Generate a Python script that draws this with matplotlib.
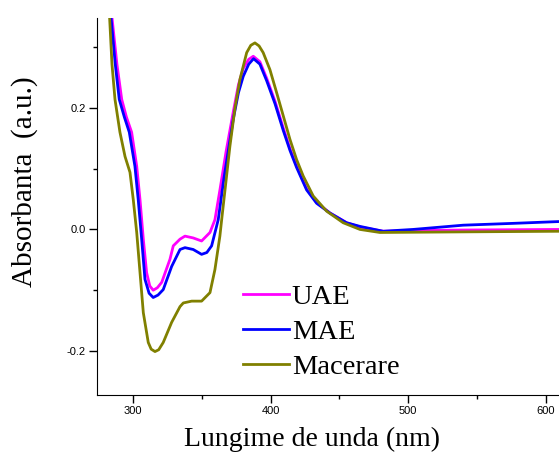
import matplotlib
matplotlib.use("Agg")
import matplotlib.pyplot as plt
from matplotlib.ticker import MultipleLocator

plt.rcParams['axes.unicode_minus'] = False

# UAE (magenta)
uae_x = [282.0, 284.5, 288.1, 291.6, 295.0, 298.8, 302.5, 304.9, 307.3, 309.7, 312.0,
         314.5, 317.5, 320.7, 326.7, 329.1, 334.0, 337.6, 343.6, 349.7, 355.8, 359.4,
         363.1, 367.5, 372.7, 376.5, 380.0, 384.0, 387.3, 392.1, 397.0, 403.1, 409.1,
         414.0, 418.8, 426.1, 433.4, 443.1, 455.2, 464.9, 481.8, 503.6, 540.0, 610.0]
uae_y = [0.48, 0.349, 0.272, 0.214, 0.185, 0.160, 0.104, 0.049, -0.016, -0.071, -0.093,
         -0.100, -0.096, -0.087, -0.049, -0.027, -0.016, -0.011, -0.014, -0.019, -0.005, 0.016,
         0.066, 0.128, 0.193, 0.238, 0.265, 0.280, 0.285, 0.276, 0.249, 0.211, 0.167,
         0.133, 0.105, 0.067, 0.044, 0.027, 0.011, 0.004, -0.003, -0.002, -0.001, 0.0]

# MAE (blue)
mae_x = [281.0, 283.8, 286.9, 289.8, 293.5, 297.1, 301.2, 303.6, 306.1, 308.5, 311.5,
         314.5, 318.0, 321.8, 327.9, 334.0, 337.6, 343.6, 349.7, 353.5, 357.0, 361.8,
         366.0, 372.7, 376.5, 380.0, 384.0, 387.5, 392.1, 397.0, 403.1, 409.1, 414.0,
         418.8, 426.1, 433.4, 443.1, 455.2, 464.9, 481.8, 503.6, 540.0, 576.4, 610.0]
mae_y = [0.48, 0.349, 0.272, 0.214, 0.185, 0.160, 0.104, 0.049, -0.016, -0.082, -0.105,
         -0.112, -0.108, -0.099, -0.061, -0.033, -0.030, -0.033, -0.041, -0.038, -0.027, 0.016,
         0.085, 0.181, 0.225, 0.252, 0.272, 0.281, 0.272, 0.245, 0.207, 0.163, 0.130,
         0.102, 0.065, 0.043, 0.027, 0.011, 0.005, -0.003, 0.0, 0.007, 0.010, 0.013]

# Macerare (olive)
mac_x = [280.0, 282.8, 284.5, 286.7, 290.3, 294.0, 297.6, 300.0, 302.5, 304.9, 307.3,
         310.9, 313.0, 315.8, 318.5, 321.8, 327.9, 334.0, 336.4, 342.5, 349.7, 355.8,
         359.4, 363.0, 364.3, 370.3, 374.0, 377.6, 382.5, 385.5, 388.5, 391.5, 394.5,
         399.4, 404.3, 409.1, 414.0, 418.8, 423.6, 430.9, 440.7, 452.7, 464.9, 479.4,
         540.0, 610.0]
mac_y = [0.48, 0.348, 0.272, 0.214, 0.160, 0.120, 0.094, 0.049, -0.005, -0.071, -0.137,
         -0.186, -0.197, -0.201, -0.198, -0.186, -0.153, -0.127, -0.121, -0.118, -0.118, -0.104,
         -0.066, -0.011, 0.016, 0.137, 0.200, 0.247, 0.291, 0.303, 0.307, 0.302, 0.291,
         0.263, 0.225, 0.187, 0.148, 0.115, 0.088, 0.055, 0.030, 0.011, 0.0, -0.005,
         -0.004, -0.003]

fig = plt.figure(figsize=(5.59, 4.61), dpi=100)
ax = fig.add_axes([0.1735, 0.1438, 1.0 - 0.1735, 0.961 - 0.1438])

ax.plot(uae_x, uae_y, color='#FF00FF', lw=2, label='UAE')
ax.plot(mae_x, mae_y, color='#0000FF', lw=2, label='MAE')
ax.plot(mac_x, mac_y, color='#808000', lw=2, label='Macerare')

ax.set_xlim(273.6, 609.7)
ax.set_ylim(-0.272, 0.348)

ax.spines['top'].set_visible(False)
ax.spines['right'].set_visible(False)

ax.xaxis.set_major_locator(MultipleLocator(100))
ax.xaxis.set_minor_locator(MultipleLocator(50))
ax.yaxis.set_major_locator(MultipleLocator(0.2))
ax.yaxis.set_minor_locator(MultipleLocator(0.1))
ax.yaxis.set_major_formatter(plt.FuncFormatter(lambda v, p: '%.1f' % v))
ax.tick_params(which='major', length=6, width=1, labelsize=8, pad=2)
ax.tick_params(which='minor', length=3, width=1)
for lab in ax.get_xticklabels() + ax.get_yticklabels():
    lab.set_family('Liberation Sans')

ax.set_xlabel('Lungime de unda (nm)', family='Liberation Serif', fontsize=20)
ax.set_ylabel('Absorbanta  (a.u.)', family='Liberation Serif', fontsize=21)
ax.xaxis.set_label_coords(0.465, -0.085)
ax.yaxis.set_label_coords(-0.128, 0.565)

ax.legend(loc='center', bbox_to_anchor=(0.575, 0.280), bbox_transform=fig.transFigure,
          frameon=False, prop={'family': 'Liberation Serif', 'size': 20.5},
          handlelength=1.6, handletextpad=0.1, labelspacing=0.33, borderaxespad=0)

fig.savefig('out.png', dpi=100)
